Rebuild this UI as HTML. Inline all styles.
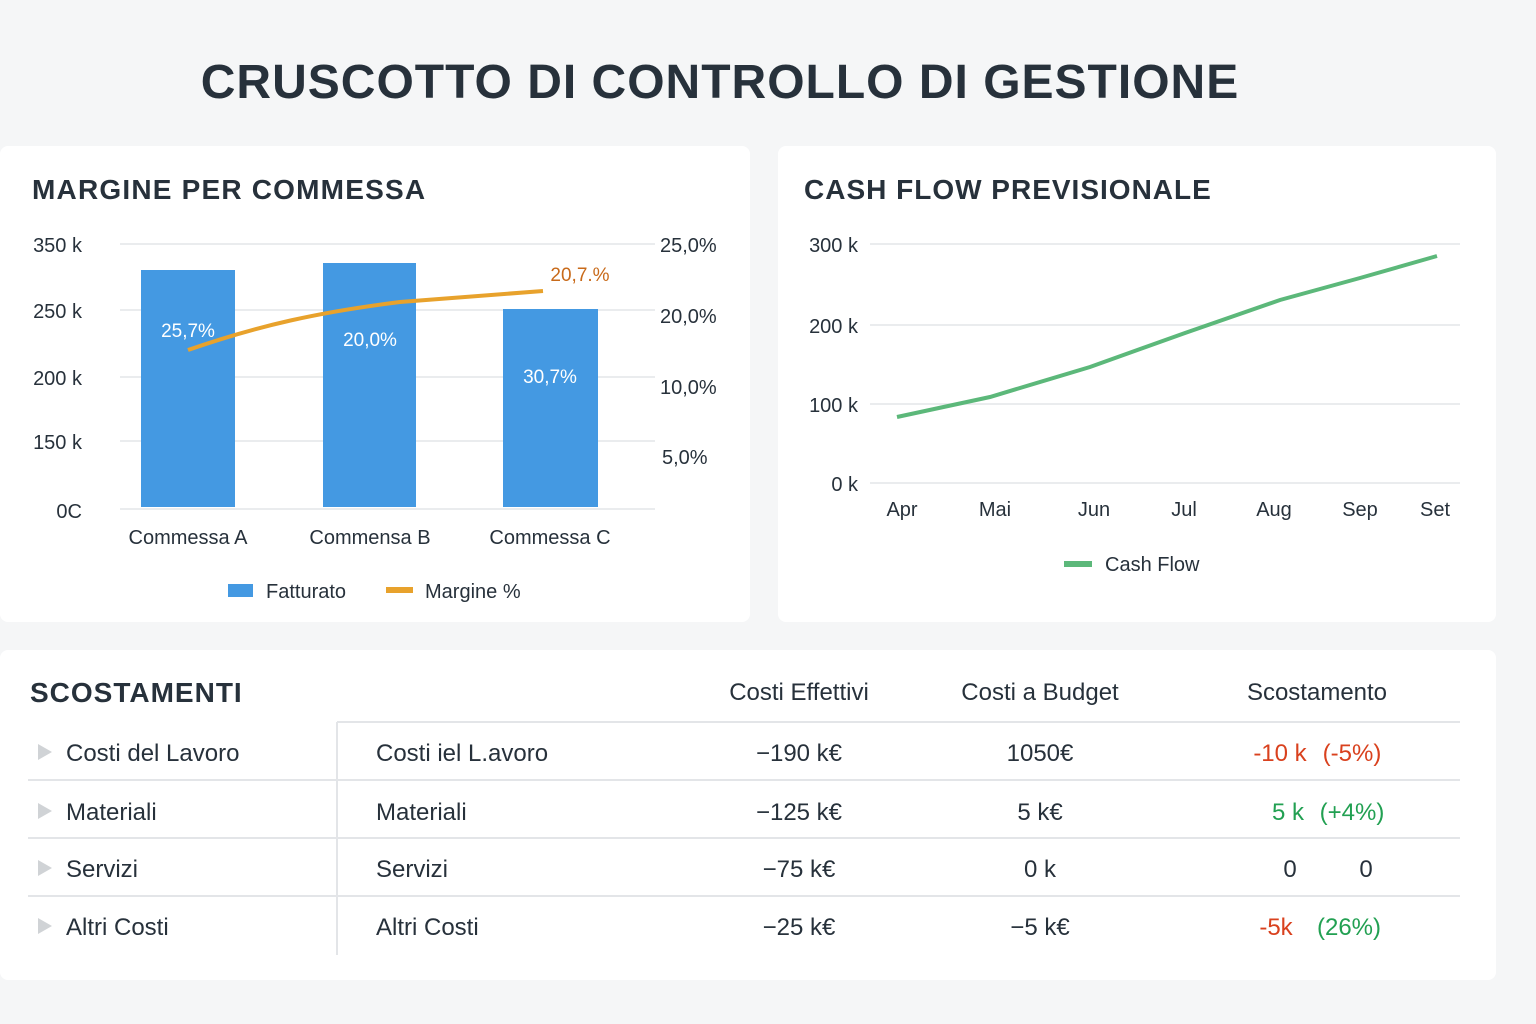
<!DOCTYPE html>
<html><head><meta charset="utf-8"><style>
html,body{margin:0;padding:0;background:#f5f6f7;}
svg{display:block;font-family:"Liberation Sans",sans-serif;}
</style></head><body>
<svg width="1536" height="1024" viewBox="0 0 1536 1024">
<rect width="1536" height="1024" fill="#f5f6f7"/>
<text x="720" y="98" text-anchor="middle" font-size="48" font-weight="bold" fill="#27313b" letter-spacing="1">CRUSCOTTO DI CONTROLLO DI GESTIONE</text>
<rect x="0" y="146" width="750" height="476" rx="8" fill="#fff"/>
<rect x="778" y="146" width="718" height="476" rx="8" fill="#fff"/>
<rect x="0" y="650" width="1496" height="330" rx="8" fill="#fff"/>
<text x="32" y="199" font-size="28" font-weight="bold" fill="#27313b" letter-spacing="1.2">MARGINE PER COMMESSA</text>
<text x="804" y="199" font-size="28" font-weight="bold" fill="#27313b" letter-spacing="1">CASH FLOW PREVISIONALE</text>
<g stroke="#e3e5e8" stroke-width="1.5">
<line x1="120" y1="244" x2="655" y2="244"/><line x1="120" y1="310" x2="655" y2="310"/><line x1="120" y1="377" x2="655" y2="377"/><line x1="120" y1="441" x2="655" y2="441"/><line x1="120" y1="509" x2="655" y2="509"/>
<line x1="870" y1="244" x2="1460" y2="244"/><line x1="870" y1="325" x2="1460" y2="325"/><line x1="870" y1="404" x2="1460" y2="404"/><line x1="870" y1="483" x2="1460" y2="483"/>
</g>
<g font-size="20" fill="#27313b">
<text x="82" y="252" text-anchor="end">350 k</text><text x="82" y="318" text-anchor="end">250 k</text><text x="82" y="385" text-anchor="end">200 k</text><text x="82" y="449" text-anchor="end">150 k</text><text x="82" y="518" text-anchor="end">0C</text>
<text x="660" y="252">25,0%</text><text x="660" y="323">20,0%</text><text x="660" y="394">10,0%</text><text x="662" y="464">5,0%</text>
<text x="188" y="544" text-anchor="middle">Commessa A</text><text x="370" y="544" text-anchor="middle">Commensa B</text><text x="550" y="544" text-anchor="middle">Commessa C</text>
<text x="266" y="598">Fatturato</text><text x="425" y="598">Margine %</text>
</g>
<g fill="#4499e2">
<rect x="141" y="270" width="94" height="237"/><rect x="323" y="263" width="93" height="244"/><rect x="503" y="309" width="95" height="198"/>
<rect x="228" y="584" width="25" height="13"/>
</g>
<path d="M188,350 C260,325 320,312 400,302 L543,291" fill="none" stroke="#e8a22c" stroke-width="4"/>
<rect x="386" y="587" width="27" height="6" fill="#e8a22c"/>
<g font-size="19" fill="#fff" text-anchor="middle">
<text x="188" y="337">25,7%</text><text x="370" y="346">20,0%</text><text x="550" y="383">30,7%</text>
</g>
<text x="580" y="281" text-anchor="middle" font-size="19" fill="#c86a1a">20,7.%</text>
<g font-size="20" fill="#27313b">
<text x="858" y="252" text-anchor="end">300 k</text><text x="858" y="333" text-anchor="end">200 k</text><text x="858" y="412" text-anchor="end">100 k</text><text x="858" y="491" text-anchor="end">0 k</text>
<text x="902" y="516" text-anchor="middle">Apr</text><text x="995" y="516" text-anchor="middle">Mai</text><text x="1094" y="516" text-anchor="middle">Jun</text><text x="1184" y="516" text-anchor="middle">Jul</text><text x="1274" y="516" text-anchor="middle">Aug</text><text x="1360" y="516" text-anchor="middle">Sep</text><text x="1435" y="516" text-anchor="middle">Set</text>
<text x="1105" y="571">Cash Flow</text>
</g>
<polyline points="897,417 990,397 1090,367 1185,333 1280,300 1360,278 1437,256" fill="none" stroke="#5cb87a" stroke-width="4"/>
<rect x="1064" y="561" width="28" height="6" fill="#5cb87a"/>
<text x="30" y="702" font-size="28" font-weight="bold" fill="#27313b" letter-spacing="1">SCOSTAMENTI</text>
<g font-size="24" fill="#27313b">
<text x="799" y="700" text-anchor="middle">Costi Effettivi</text><text x="1040" y="700" text-anchor="middle">Costi a Budget</text><text x="1317" y="700" text-anchor="middle">Scostamento</text>
</g>
<g stroke="#e3e5e8" stroke-width="2">
<line x1="337" y1="722" x2="1460" y2="722"/><line x1="28" y1="780" x2="1460" y2="780"/><line x1="28" y1="838" x2="1460" y2="838"/><line x1="28" y1="896" x2="1460" y2="896"/>
<line x1="337" y1="722" x2="337" y2="955"/>
</g>
<g fill="#d0d3d6">
<polygon points="38,744 38,760 52,752"/><polygon points="38,803 38,819 52,811"/><polygon points="38,860 38,876 52,868"/><polygon points="38,918 38,934 52,926"/>
</g>
<g font-size="24" fill="#27313b">
<text x="66" y="761">Costi del Lavoro</text><text x="66" y="820">Materiali</text><text x="66" y="877">Servizi</text><text x="66" y="935">Altri Costi</text>
<text x="376" y="761">Costi iel L.avoro</text><text x="376" y="820">Materiali</text><text x="376" y="877">Servizi</text><text x="376" y="935">Altri Costi</text>
<g text-anchor="middle">
<text x="799" y="761">−190 k€</text><text x="799" y="820">−125 k€</text><text x="799" y="877">−75 k€</text><text x="799" y="935">−25 k€</text>
<text x="1040" y="761">1050€</text><text x="1040" y="820">5 k€</text><text x="1040" y="877">0 k</text><text x="1040" y="935">−5 k€</text>
<text x="1290" y="877">0</text><text x="1366" y="877">0</text>
</g>
</g>
<g font-size="24" text-anchor="middle">
<text x="1280" y="761" fill="#d9411e">-10 k</text><text x="1352" y="761" fill="#d9411e">(-5%)</text>
<text x="1288" y="820" fill="#22a052">5 k</text><text x="1352" y="820" fill="#22a052">(+4%)</text>
<text x="1276" y="935" fill="#d9411e">-5k</text><text x="1349" y="935" fill="#22a052">(26%)</text>
</g>
</svg>
</body></html>
